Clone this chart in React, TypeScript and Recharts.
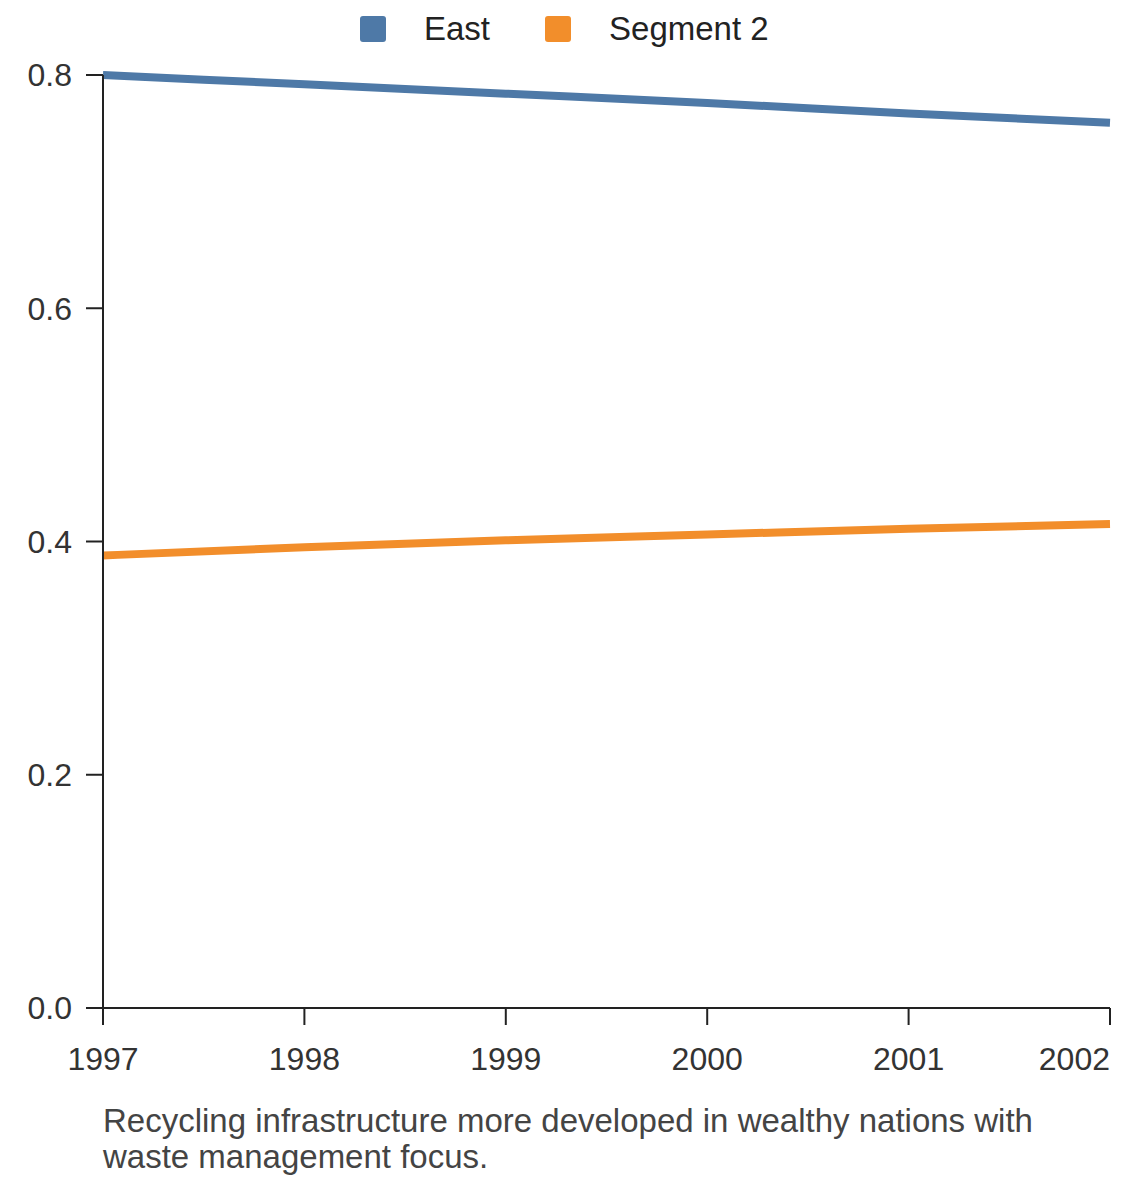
import { LineChart, Line, XAxis, YAxis } from "recharts"

const years = [1997, 1998, 1999, 2000, 2001, 2002]
const eastValues = [0.8, 0.792, 0.784, 0.776, 0.767, 0.759]
const segment2Values = [0.388, 0.395, 0.401, 0.406, 0.411, 0.415]
const yTicks = [0, 0.2, 0.4, 0.6, 0.8]

const seriesNames = ["East", "Segment 2"]
const seriesColors = ["#4e79a7", "#f28e2b"]
const caption =
  "Recycling infrastructure more developed in wealthy nations with waste management focus."

const data = years.map((year, i) => ({
  year,
  east: eastValues[i],
  segment2: segment2Values[i],
}))

const FONT = "Liberation Sans, Arial, sans-serif"
const TEXT = "#333333"
const AXIS = "#222222"

// last year label sits flush with the right end of the axis
function YearTick(props: any) {
  const { x, y, payload, index } = props
  const last = index === years.length - 1
  return (
    <text
      x={x}
      y={y}
      dy="0.71em"
      textAnchor={last ? "end" : "middle"}
      fill={TEXT}
      fontSize={32}
      fontFamily={FONT}
    >
      {payload.value}
    </text>
  )
}

function ChartLegend() {
  return (
    <div
      style={{
        position: "absolute",
        top: 10,
        left: 360,
        display: "flex",
        alignItems: "center",
        fontFamily: FONT,
      }}
    >
      {seriesNames.map((name, i) => (
        <div
          key={name}
          style={{ display: "flex", alignItems: "center", marginLeft: i ? 55 : 0 }}
        >
          <span
            style={{
              width: 26,
              height: 26,
              borderRadius: 3,
              background: seriesColors[i],
              display: "inline-block",
              marginRight: 38,
            }}
          />
          <span style={{ fontSize: 33, lineHeight: "38px", color: "#222" }}>{name}</span>
        </div>
      ))}
    </div>
  )
}

export default function App() {
  return (
    <div
      style={{
        position: "absolute",
        left: 0,
        top: 0,
        width: 1140,
        height: 1182,
        background: "#fff",
        fontFamily: FONT,
      }}
    >
      <ChartLegend />
      <LineChart
        width={1140}
        height={1100}
        data={data}
        margin={{ top: 75, right: 30, left: 23, bottom: 32 }}
      >
        <XAxis
          dataKey="year"
          type="number"
          domain={[1997, 2002]}
          ticks={years}
          height={60}
          stroke={AXIS}
          strokeWidth={2}
          tickSize={17}
          tickMargin={22}
          tick={<YearTick />}
        />
        <YAxis
          type="number"
          domain={[0, 0.8]}
          ticks={yTicks}
          width={80}
          stroke={AXIS}
          strokeWidth={2}
          tickSize={17}
          tickMargin={14}
          tickFormatter={(v: number) => v.toFixed(1)}
          tick={{ fill: TEXT, fontSize: 32, fontFamily: FONT }}
        />
        <Line
          dataKey="east"
          name={seriesNames[0]}
          stroke={seriesColors[0]}
          strokeWidth={8}
          dot={false}
          type="monotone"
          isAnimationActive={false}
        />
        <Line
          dataKey="segment2"
          name={seriesNames[1]}
          stroke={seriesColors[1]}
          strokeWidth={8}
          dot={false}
          type="monotone"
          isAnimationActive={false}
        />
      </LineChart>
      <div
        style={{
          position: "absolute",
          left: 103,
          top: 1103,
          width: 980,
          fontSize: 33,
          lineHeight: "36px",
          color: "#444",
        }}
      >
        {caption}
      </div>
    </div>
  )
}
